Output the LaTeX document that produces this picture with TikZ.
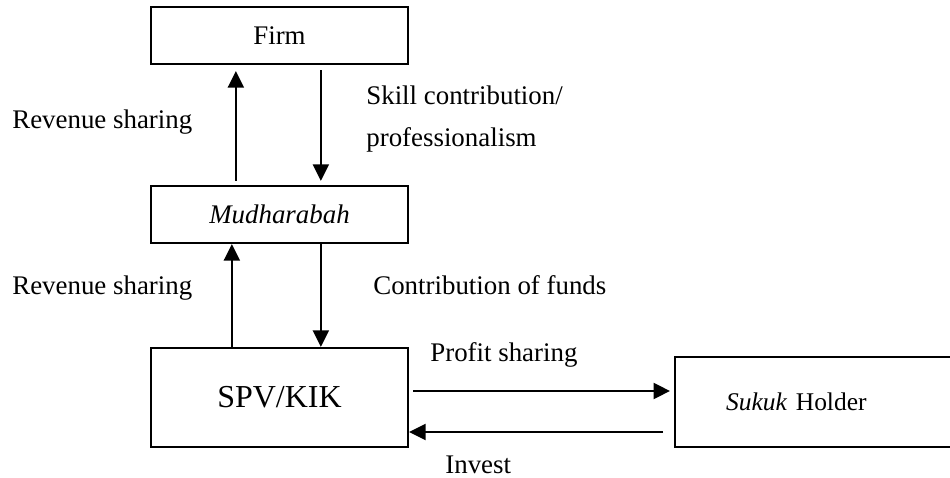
\documentclass[tikz,border=0pt]{standalone}
\usepackage{fontspec}
\setmainfont{Liberation Serif}
\usetikzlibrary{arrows.meta}

\begin{document}
\begin{tikzpicture}[
  box/.style={draw, line width=1.3pt, minimum width=5.14cm, inner sep=0pt},
  flow/.style={line width=1.3pt, -{Triangle[length=0.33cm,width=0.32cm]}},
  lbl/.style={anchor=west, inner sep=0pt, align=left, font=\fontsize{15.3}{23.8}\selectfont}
]
\useasboundingbox (0,0) rectangle (19,9.56);
% boxes
\node[box, minimum height=1.14cm, font=\fontsize{15.3}{18}\selectfont] (firm) at (5.59,8.85) {Firm};
\node[box, minimum height=1.14cm, font=\fontsize{15.3}{18}\selectfont] (mud) at (5.59,5.27) {\textit{Mudharabah}};
\node[box, minimum height=1.98cm, font=\fontsize{18.2}{22}\selectfont] (spv) at (5.59,1.61) {SPV/KIK};
\node[box, minimum height=1.80cm, minimum width=5.8cm, text width=3.76cm, inner xsep=1.02cm,
      font=\fontsize{14.5}{17}\selectfont, anchor=west] (sukuk) at (13.48,1.52) {\textit{Sukuk} Holder};
% firm <-> mudharabah
\draw[flow] ([xshift=1.72cm,yshift=0.08cm]mud.north west) -- ([xshift=1.72cm,yshift=-0.12cm]firm.south west);
\draw[flow] ([xshift=3.42cm,yshift=-0.1cm]firm.south west) -- ([xshift=3.42cm,yshift=0.08cm]mud.north west);
% mudharabah <-> spv
\draw[flow] ([xshift=1.64cm]spv.north west) -- ([xshift=1.64cm]mud.south west);
\draw[flow] ([xshift=3.42cm]mud.south west) -- ([xshift=3.42cm]spv.north west);
% spv <-> sukuk holder
\draw[flow] ([xshift=0.08cm]spv.east |- 0,1.74) -- ([xshift=-0.08cm]sukuk.west |- 0,1.74);
\draw[flow] ([xshift=-0.22cm]sukuk.west |- 0,0.92) -- (spv.east |- 0,0.92);
% labels
\node[lbl] (rev1) at (0.24,7.12) {Revenue sharing};
\node[lbl] (skill) at (7.32,7.18) {Skill contribution/\\professionalism};
\node[lbl] (rev2) at (0.24,3.80) {Revenue sharing};
\node[lbl] (funds) at (7.46,3.86) {Contribution of funds};
\node[lbl] (profit) at (8.60,2.46) {Profit sharing};
\node[lbl] (invest) at (8.90,0.26) {Invest};
\end{tikzpicture}
\end{document}
